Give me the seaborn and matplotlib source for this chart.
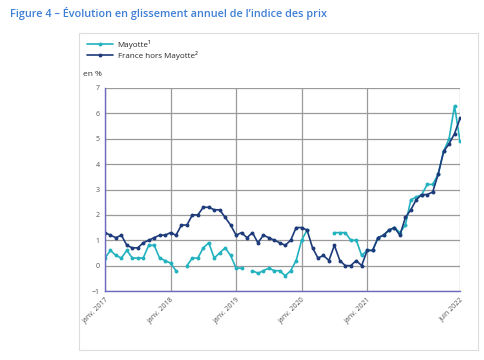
import numpy as np
import pandas as pd
import matplotlib
matplotlib.use("Agg")
import matplotlib.pyplot as plt
import seaborn as sns
from matplotlib.patches import Rectangle
from matplotlib.lines import Line2D

sns.set_theme(style="white")
plt.rcParams['font.family'] = ['Open Sans', 'DejaVu Sans']

# Monthly values, janv. 2017 -> juin 2022 (66 months)
france = [1.3, 1.2, 1.1, 1.2, 0.8, 0.7, 0.7, 0.9, 1.0, 1.1, 1.2, 1.2,
          1.3, 1.2, 1.6, 1.6, 2.0, 2.0, 2.3, 2.3, 2.2, 2.2, 1.9, 1.6,
          1.2, 1.3, 1.1, 1.3, 0.9, 1.2, 1.1, 1.0, 0.9, 0.8, 1.0, 1.5,
          1.5, 1.4, 0.7, 0.3, 0.4, 0.2, 0.8, 0.2, 0.0, 0.0, 0.2, 0.0,
          0.6, 0.6, 1.1, 1.2, 1.4, 1.5, 1.2, 1.9, 2.2, 2.6, 2.8, 2.8,
          2.9, 3.6, 4.5, 4.8, 5.2, 5.8]
nan = np.nan
mayotte = [0.3, 0.6, 0.4, 0.3, 0.6, 0.3, 0.3, 0.3, 0.8, 0.8, 0.3, 0.2,
           0.1, -0.2, nan, 0.0, 0.3, 0.3, 0.7, 0.9, 0.3, 0.5, 0.7, 0.4,
           -0.1, -0.1, nan, -0.2, -0.3, -0.2, -0.1, -0.2, -0.2, -0.4, -0.2, 0.2,
           1.0, 1.4, nan, nan, nan, nan, 1.3, 1.3, 1.3, 1.0, 1.0, 0.4,
           0.6, 0.6, 1.1, 1.2, 1.4, 1.5, 1.3, 1.6, 2.6, 2.7, 2.8, 3.2,
           3.2, 3.6, 4.5, 5.0, 6.3, 4.9]
tick_pos = [0, 12, 24, 36, 48, 65]
tick_labels = ["janv. 2017", "janv. 2018", "janv. 2019", "janv. 2020", "janv. 2021", "juin 2022"]
series_names = ["Mayotte\u00b9", "France hors Mayotte\u00b2"]

teal = "#22b2bf"
navy = "#1d3b7a"

months = np.arange(len(france))
may = pd.DataFrame({"m": months, "v": mayotte})
may["seg"] = may["v"].isna().cumsum()
may = may.dropna()
fra = pd.DataFrame({"m": months, "v": france})

fig = plt.figure(figsize=(4.85, 3.6), dpi=100)
ax = fig.add_axes([105/485, 1-291/360, 355/485, 203/360])

sns.lineplot(data=may, x="m", y="v", units="seg", estimator=None, ax=ax,
             color=teal, lw=1.2, marker="o", markersize=2.8, markeredgewidth=0,
             legend=False)
sns.lineplot(data=fra, x="m", y="v", ax=ax, color=navy, lw=1.2, marker="o",
             markersize=2.8, markeredgewidth=0, legend=False)

ax.set_xlim(0, 65)
ax.set_ylim(-1, 7)
ax.set_yticks(range(-1, 8))
ax.set_xticks(tick_pos)
ax.set_xticklabels(tick_labels, rotation=45, ha="right", va="top",
                   rotation_mode="anchor", fontsize=5, color="#555555")
ax.tick_params(axis="y", labelsize=5, colors="#555555", length=2, width=0.6, pad=2)
ax.tick_params(axis="x", length=0, pad=4)
ax.set_xlabel("")
ax.set_ylabel("")
ax.grid(True, color="#9a9a9a", lw=0.9)
ax.set_axisbelow(True)
for s in ["top", "right"]:
    ax.spines[s].set_visible(False)
for s in ["left", "bottom"]:
    ax.spines[s].set_color("#6a6ac0")
    ax.spines[s].set_linewidth(1.0)

fig.text(10/485, 1-14/360, "Figure 4 \u2013 \u00c9volution en glissement annuel de l\u2019indice des prix",
         fontsize=7.8, color="#3d7fd6", fontweight="semibold", va="center", ha="left")
fig.patches.append(Rectangle((79/485, 1-350/360), 399/485, 317/360, transform=fig.transFigure,
                             fill=False, edgecolor="#dddddd", lw=0.8))
fig.text(83/485, 1-75/360, "en %", fontsize=6, color="#333333", va="center", ha="left")

handles = [Line2D([], [], color=teal, lw=1.2, marker="o", markersize=2.8, markeredgewidth=0),
           Line2D([], [], color=navy, lw=1.2, marker="o", markersize=2.8, markeredgewidth=0)]
fig.legend(handles, series_names, loc="upper left", bbox_to_anchor=(87/485, 1-40/360),
           frameon=False, fontsize=5.8, handlelength=3.2, labelspacing=0.25,
           handletextpad=0.6, borderaxespad=0, borderpad=0)

fig.savefig("out.png", dpi=100)
